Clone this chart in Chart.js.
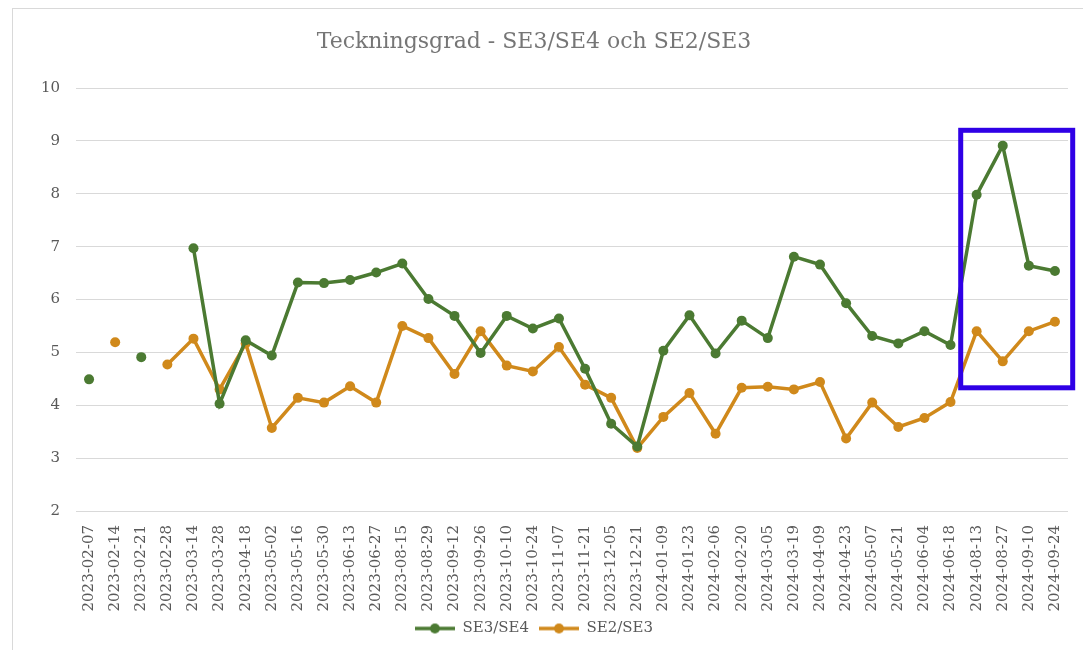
<!DOCTYPE html>
<html>
<head>
<meta charset="utf-8">
<title>Teckningsgrad</title>
<script src="https://cdn.jsdelivr.net/npm/chart.js@4/dist/chart.umd.min.js"></script>
<style>
    body { margin: 0; background: #fff; }
    #frame { position: absolute; left: 12px; top: 8px; width: 1200px; height: 800px; border: 1px solid #d9d9d9; }
    #wrap { position: absolute; left: 0; top: 0; width: 1083px; height: 650px; }
</style>
</head>
<body>
<div id="frame"></div>
<div id="wrap"><canvas id="myChart"></canvas></div>
<script>
const labels = [
    "2023-02-07", "2023-02-14", "2023-02-21", "2023-02-28", "2023-03-14", "2023-03-28",
    "2023-04-18", "2023-05-02", "2023-05-16", "2023-05-30", "2023-06-13", "2023-06-27",
    "2023-08-15", "2023-08-29", "2023-09-12", "2023-09-26", "2023-10-10", "2023-10-24",
    "2023-11-07", "2023-11-21", "2023-12-05", "2023-12-21", "2024-01-09", "2024-01-23",
    "2024-02-06", "2024-02-20", "2024-03-05", "2024-03-19", "2024-04-09", "2024-04-23",
    "2024-05-07", "2024-05-21", "2024-06-04", "2024-06-18", "2024-08-13", "2024-08-27",
    "2024-09-10", "2024-09-24",
];

const se3se4 = [
    4.49, null, 4.91, null, 6.97, 4.03, 5.23, 4.94, 6.32, 6.31, 6.37, 6.51,
    6.68, 6.01, 5.69, 4.99, 5.69, 5.45, 5.64, 4.69, 3.65, 3.22, 5.03, 5.70,
    4.98, 5.60, 5.27, 6.81, 6.66, 5.93, 5.31, 5.17, 5.40, 5.14, 7.98, 8.91,
    6.64, 6.54,
];

const se2se3 = [
    null, 5.19, null, 4.77, 5.26, 4.30, 5.17, 3.57, 4.14, 4.05, 4.36, 4.05,
    5.50, 5.27, 4.59, 5.40, 4.75, 4.64, 5.10, 4.39, 4.14, 3.19, 3.78, 4.23,
    3.46, 4.33, 4.35, 4.30, 4.44, 3.37, 4.05, 3.59, 3.76, 4.06, 5.40, 4.83,
    5.40, 5.58,
];

// highlight box: x in category index units, y in value units
const boxX = [33.39, 37.68];
const boxY = [9.2, 4.33];

const green = "#4b7a32";
const orange = "#d0891b";
const fontFamily = "'DejaVu Serif', 'Liberation Serif', serif";

function legendIcon(color) {
    const c = document.createElement("canvas");
    c.width = 40;
    c.height = 12;
    const g = c.getContext("2d");
    g.strokeStyle = color;
    g.lineWidth = 3.5;
    g.beginPath();
    g.moveTo(0, 6);
    g.lineTo(40, 6);
    g.stroke();
    g.fillStyle = color;
    g.beginPath();
    g.arc(20, 6, 5, 0, Math.PI * 2);
    g.fill();
    return c;
}

const highlightBox = {
    id: "highlightBox",
    afterDatasetsDraw(chart) {
        const { ctx, scales } = chart;
        const x1 = scales.x.getPixelForValue(boxX[0]);
        const x2 = scales.x.getPixelForValue(boxX[1]);
        const y1 = scales.y.getPixelForValue(boxY[0]);
        const y2 = scales.y.getPixelForValue(boxY[1]);
        ctx.save();
        ctx.strokeStyle = "#2f00e6";
        ctx.lineWidth = 5;
        ctx.strokeRect(x1, y1, x2 - x1, y2 - y1);
        ctx.restore();
    },
};

const ctx = document.querySelector("#myChart");

new Chart(ctx, {
    type: "line",
    data: {
        labels: labels,
        datasets: [
            {
                label: "SE3/SE4",
                data: se3se4,
                borderColor: green,
                backgroundColor: green,
                borderWidth: 3.5,
                pointRadius: 5,
                pointStyle: "circle",
                pointBorderWidth: 0,
                tension: 0,
            },
            {
                label: "SE2/SE3",
                data: se2se3,
                borderColor: orange,
                backgroundColor: orange,
                borderWidth: 3.5,
                pointRadius: 5,
                pointStyle: "circle",
                pointBorderWidth: 0,
                tension: 0,
            },
        ],
    },
    options: {
        responsive: true,
        maintainAspectRatio: false,
        animation: false,
        events: [],
        layout: { padding: { left: 0, right: 15, top: 0, bottom: 4 } },
        plugins: {
            title: {
                display: true,
                text: "Teckningsgrad - SE3/SE4 och SE2/SE3",
                color: "#767676",
                font: { family: fontFamily, size: 22, weight: "normal" },
                padding: { top: 29, bottom: 32.6 },
            },
            legend: {
                position: "bottom",
                labels: {
                    color: "#595959",
                    font: { family: fontFamily, size: 15 },
                    usePointStyle: true,
                    pointStyleWidth: 40,
                    padding: 10,
                    generateLabels(chart) {
                        return chart.data.datasets.map((ds, i) => ({
                            text: ds.label,
                            pointStyle: legendIcon(ds.borderColor),
                            fillStyle: ds.borderColor,
                            strokeStyle: ds.borderColor,
                            lineWidth: 0,
                            fontColor: "#595959",
                            datasetIndex: i,
                        }));
                    },
                },
            },
            tooltip: { enabled: false },
        },
        scales: {
            x: {
                offset: true,
                grid: { display: false },
                border: { display: false },
                ticks: {
                    color: "#595959",
                    font: { family: fontFamily, size: 15 },
                    minRotation: 90,
                    maxRotation: 90,
                    autoSkip: false,
                    padding: 6,
                },
                afterFit(scale) {
                    scale.height = 100;
                },
            },
            y: {
                min: 2,
                max: 10,
                border: { display: false },
                grid: { color: "#d9d9d9", lineWidth: 1, drawTicks: false },
                ticks: {
                    stepSize: 1,
                    color: "#595959",
                    font: { family: fontFamily, size: 15 },
                    padding: 16,
                },
                afterFit(scale) {
                    scale.width = 76;
                },
            },
        },
    },
    plugins: [highlightBox],
});
</script>
</body>
</html>
